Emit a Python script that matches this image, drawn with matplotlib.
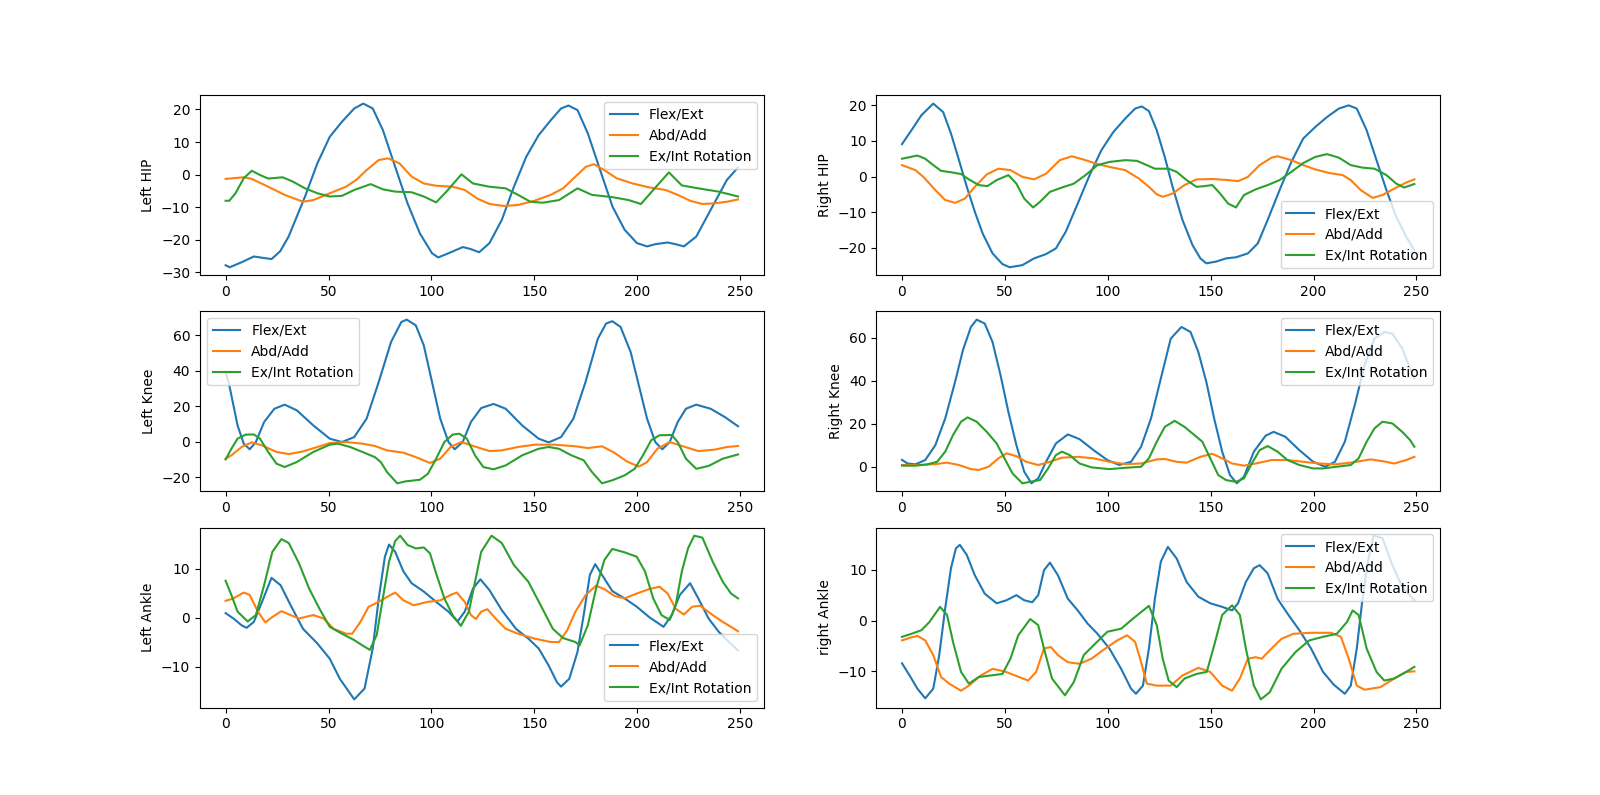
import numpy as np
import matplotlib.pyplot as plt

labels = ['Flex/Ext', 'Abd/Add', 'Ex/Int Rotation']
ylabels = ['Left HIP', 'Right HIP', 'Left Knee', 'Right Knee', 'Left Ankle', 'right Ankle']

#> Left HIP
lhip_flex_x = [0, 2, 8, 13.7, 18, 22.3, 26.5, 30.6, 38.6, 44.6, 50.6, 56.5, 62.5, 66.9, 71.5, 76.4, 82.4, 88.4, 94.4, 100.3, 103.3, 108.3, 115.3, 119, 123.2, 128.2, 134.2, 140.1, 146.1, 152.1, 158, 163, 166.6, 171, 176, 182, 188, 193.9, 199.9, 204.8, 209, 214.8, 218.5, 222.7, 228.7, 235.7, 243.6, 249]
lhip_flex_y = [-27.8, -28.4, -26.8, -25.1, -25.5, -25.9, -23.5, -19, -6.7, 3.5, 11.6, 16.2, 20.3, 21.8, 20.3, 13.7, 2.4, -8.8, -18, -24.1, -25.4, -24.1, -22.2, -22.8, -23.8, -21, -13.9, -3.7, 5.5, 12.1, 16.7, 20.3, 21.2, 19.8, 12.7, 1.4, -9.8, -16.9, -21, -22, -21.3, -20.8, -21.3, -22, -19, -10.8, -1.6, 2.2]
lhip_abd_x = [0, 8.8, 12.7, 20.7, 28.7, 37.6, 42.6, 50.6, 58.5, 63.5, 68.5, 74.4, 79, 84.4, 90.4, 96.3, 102.3, 110.3, 116.2, 122.2, 128.2, 135.2, 142.1, 150.1, 158, 164, 170, 175, 179, 184, 190, 197.8, 205.8, 213.8, 219.7, 225.7, 231.7, 237.6, 243.6, 249]
lhip_abd_y = [-1.3, -0.8, -1.3, -3.7, -6.2, -8.3, -7.8, -5.7, -3.7, -1.6, 1.4, 4.5, 5, 3.5, -0.6, -2.7, -3.4, -3.7, -4.7, -7.3, -9, -9.6, -9.3, -8, -6.2, -4.2, -0.6, 2.4, 3.2, 1.4, -1.1, -2.7, -3.9, -4.7, -6.2, -8, -9, -8.8, -8.3, -7.6]
lhip_rot_x = [0, 1.8, 4.8, 8.8, 12.7, 16.7, 20.7, 27.7, 32.6, 38.6, 44.6, 50.6, 56.5, 62.5, 70.5, 76.4, 82.4, 90.4, 96.3, 102.3, 107.3, 114.6, 120.2, 128.2, 136.1, 142.1, 148.1, 154.1, 162, 166, 171, 178, 188, 195.9, 201.8, 207.8, 215.4, 221.7, 229.7, 239.6, 249]
lhip_rot_y = [-8, -8, -5.7, -1.1, 1.2, -0.1, -1.2, -0.8, -2.1, -4.2, -5.7, -6.7, -6.5, -4.7, -2.9, -4.5, -5.2, -5.4, -6.7, -8.5, -5.2, 0.1, -2.7, -3.7, -4.2, -6.2, -8.3, -8.6, -7.8, -6.2, -4.2, -6.2, -6.9, -7.8, -9, -4.7, 0.7, -3.3, -4.2, -5.2, -6.7]

#> Right HIP
rhip_flex_x = [0, 4.6, 9.4, 15.2, 20, 23.8, 27.7, 31.5, 35.4, 39.2, 44, 48.8, 52.3, 58.5, 64.2, 70, 74.8, 79.6, 85.4, 91.2, 96.9, 102.7, 108.5, 113.3, 116.5, 120, 123.8, 127.7, 131.5, 136.3, 141.2, 145, 147.9, 152.7, 157.5, 162.3, 168.1, 172.9, 177.7, 183.5, 189.2, 195, 200.8, 206.5, 212.3, 217.1, 221, 225.8, 230.6, 235.4, 240.2, 245, 249]
rhip_flex_y = [9.1, 13, 17.2, 20.5, 18.1, 12.1, 4.6, -2.9, -9.9, -16, -21.6, -24.6, -25.5, -24.9, -23, -21.8, -20.2, -15.5, -7.6, 0.4, 7.4, 12.5, 16.3, 19.1, 19.7, 18.4, 13, 5.5, -2.9, -12.2, -19.3, -23, -24.4, -23.9, -23, -22.7, -21.6, -18.8, -12.2, -3.8, 4.1, 10.7, 13.9, 16.7, 19.1, 20, 19.1, 13, 4.6, -3.8, -11.3, -16.9, -20.7]
rhip_abd_x = [0, 6.5, 10.4, 16.2, 21, 25.8, 30.6, 35.4, 41.2, 46.9, 52.7, 58.5, 64.2, 70, 76.7, 82.5, 89.2, 95, 100.8, 108.5, 115.2, 120, 123.8, 126.7, 131.5, 137.3, 143.1, 150.8, 158.5, 163.3, 168.1, 173.8, 179.6, 182.5, 189.2, 195, 200.8, 207.5, 214.2, 218.1, 222.9, 228.7, 233.5, 239.2, 245, 249]
rhip_abd_y = [3.2, 1.8, -0.1, -3.8, -6.6, -7.4, -6.2, -2.9, 0.6, 2.2, 1.8, -0.1, -0.8, 0.8, 4.6, 5.7, 4.6, 3.5, 2.7, 1.8, -0.6, -2.9, -5, -5.7, -4.8, -2.4, -0.8, -0.7, -1, -1.3, -0.1, 3.2, 5.3, 5.7, 4.6, 3.2, 2, 1, 0.4, -1, -3.8, -6, -5.2, -3.4, -1.7, -0.8]
rhip_rot_x = [0, 7.5, 11.3, 15.2, 19, 23.8, 28.7, 32.5, 37.3, 41.5, 46, 51.7, 55.6, 59.4, 63.7, 67.1, 71.9, 77.7, 83.5, 89.2, 95, 100.8, 108.5, 114.2, 119, 122.9, 129.6, 133.5, 138.3, 143.1, 146.9, 150.8, 154.6, 158.5, 162.3, 166.2, 171.9, 177.7, 183.5, 189.2, 195, 200.8, 206.5, 212.3, 218.1, 223.8, 229.6, 235.4, 240.2, 244, 249]
rhip_rot_y = [5, 5.9, 5, 3.2, 1.6, 1.2, 0.7, -0.8, -2.4, -2.7, -1, 0.4, -2, -6.2, -8.7, -7.1, -4.3, -3.1, -2, 0.4, 3.2, 4.1, 4.6, 4.4, 3.2, 2.2, 2.2, 1.3, -1, -2.9, -2.7, -2.4, -4.8, -7.6, -8.7, -5.2, -3.6, -2.4, -1, 1.3, 3.8, 5.5, 6.3, 5.3, 3.2, 2.5, 2.2, 0.4, -2, -3.1, -2.1]

#> Left Knee
lknee_flex_x = [0, 1.8, 3.8, 5.8, 8.8, 11.7, 14.7, 18.7, 23.7, 28.7, 34.6, 42.6, 50.6, 56.5, 62.5, 68.5, 74.4, 80.4, 85.4, 88, 92.4, 96.3, 100.3, 104.3, 108.3, 111.3, 115.2, 119.2, 124.2, 130.2, 136.1, 144.1, 152.1, 157, 163, 169, 174.9, 180.9, 184.9, 187.9, 191.9, 196.8, 200.8, 204.8, 208.8, 212.2, 215.8, 219.7, 223.7, 228.7, 235.7, 242.6, 249]
lknee_flex_y = [39.4, 31.8, 20.5, 9.2, -1.1, -4.3, -0.2, 11.1, 18.6, 20.9, 17.7, 9.2, 1.7, -0.2, 2.6, 13, 33.7, 56.3, 67.6, 68.9, 65.7, 54.4, 33.7, 13, -0.2, -4.3, -0.2, 11.1, 19, 21.3, 18.6, 9.2, 1.7, -0.4, 2.6, 13, 33.7, 58.2, 66.7, 68, 64.8, 50.7, 31.8, 13, -0.2, -4.3, -0.2, 11.1, 18.6, 20.9, 18.6, 13.9, 8.7]
lknee_abd_x = [0, 2.8, 7.8, 12.7, 17.7, 24.7, 30.7, 37.6, 44.6, 50.6, 58.5, 66.5, 72.5, 78.4, 86.4, 92.4, 99.3, 104.3, 109.3, 114.6, 120.2, 128.2, 134.2, 142.1, 150.1, 160, 170, 176, 182.9, 188.9, 194.9, 200.8, 204.8, 209.8, 215.8, 221.7, 229.7, 237.6, 243.6, 249]
lknee_abd_y = [-9.6, -7.7, -3, -0.4, -2.1, -5.8, -7, -5.5, -3, -0.8, -0.2, -1.1, -2.4, -4.9, -6.2, -8.7, -12, -9.6, -3, -0.2, -2.4, -5.3, -4.9, -3, -1.7, -1.7, -2.6, -3.6, -2.6, -6.2, -11.1, -14.1, -11.5, -4, -0.2, -2.4, -5.3, -4.5, -3, -2.4]
lknee_rot_x = [0, 2.8, 5.8, 9.8, 13.7, 16.7, 20.7, 24.7, 28.7, 34.6, 42.6, 50.6, 54.5, 60.5, 66.5, 72.5, 75.4, 78.4, 83.4, 87.4, 94.4, 98.3, 102.3, 106.3, 110.3, 113.6, 117.2, 121.2, 125.2, 130.2, 136.1, 144.1, 152.1, 157, 162, 168, 174, 178, 182.9, 187.9, 193.9, 198.8, 202.8, 206.8, 210.8, 216.8, 219.7, 223.7, 228.7, 234.7, 241.6, 249]
lknee_rot_y = [-10, -4, 1.7, 4, 4.1, 1.7, -5.8, -12.4, -14.3, -11.5, -5.8, -1.7, -1.1, -3, -5.8, -8.7, -11.5, -17.1, -23.5, -22.4, -21.5, -18.1, -9.6, -0.2, 4, 4.5, 1.7, -7.7, -14.3, -15.6, -13.4, -7.7, -4, -3, -4, -7.7, -10.5, -17.1, -23.5, -21.8, -19, -15.3, -7.7, 0.8, 3.6, 3.8, -0.2, -9.6, -15.3, -13.7, -9.6, -7.2]

#> Right Knee
rknee_flex_x = [0, 2.7, 6.5, 11.3, 16.2, 21, 25.8, 29.6, 33.5, 36.3, 40.2, 44, 47.9, 51.7, 55.6, 59.4, 62.9, 66.2, 70, 74.8, 80.6, 86.3, 93.1, 99.8, 105.6, 111.3, 116.2, 121, 125.8, 130.6, 135.8, 140.2, 144, 147.9, 151.7, 155.6, 159.4, 162.7, 166.2, 171, 176.7, 180.6, 186.3, 193.1, 199.8, 205.6, 210.4, 215.2, 220, 224.8, 229.6, 234.4, 238.3, 243.1, 246.9, 249]
rknee_flex_y = [3.2, 1.5, 1.1, 3.1, 10, 22.4, 39.4, 54.1, 64.9, 68.3, 66.5, 57.9, 42.5, 25.5, 10, -2.3, -7.7, -5.4, 2.3, 10.8, 15, 12.8, 7.7, 3.1, 0.8, 2.3, 9.3, 22.4, 41, 59.5, 64.9, 62.6, 53.3, 39.4, 22.4, 7, -3.9, -7.7, -4.6, 7, 14.4, 16.2, 13.9, 7.7, 2.3, 0, 2.3, 11.6, 28.6, 47.1, 59.5, 62.6, 61.8, 54.9, 45.6, 41]
rknee_abd_x = [0, 8.5, 16.2, 21.9, 27.7, 33.5, 37.3, 42.1, 46.9, 50.8, 55.6, 60.4, 66.2, 71.9, 77.7, 85.4, 93.1, 100.8, 108.5, 116.2, 123.8, 127.7, 133.5, 138.3, 145, 150.8, 155.6, 160.4, 166.2, 171.9, 179.6, 187.3, 195, 202.7, 210.4, 218.1, 227.7, 233.5, 239.2, 245, 249]
rknee_abd_y = [0.8, 0.8, 1.2, 1.9, 0.8, -1.1, -1.5, 0, 3.9, 6.2, 4.9, 2.3, 0.8, 2.3, 4.2, 4.6, 3.9, 2.3, 1.2, 1.5, 3.4, 3.6, 2.3, 1.9, 4.6, 6, 3.9, 1.5, 0.5, 1.5, 3.1, 3.1, 2.3, 1.5, 1.1, 1.9, 3.4, 2.6, 1.5, 3.1, 4.6]
rknee_rot_x = [0, 6.5, 12.3, 17.1, 21, 24.8, 28.7, 31.9, 36.3, 41.2, 46, 49.8, 53.7, 58.5, 62.3, 67.1, 71, 74.8, 77.7, 81.5, 86.3, 92.1, 100.8, 108.5, 116.2, 120, 123.8, 127.7, 132.5, 137.3, 142.1, 146, 149.8, 153.7, 157.5, 162.3, 166.2, 170, 173.8, 177.7, 182.5, 187.3, 193.1, 199.8, 204.6, 211.3, 218.1, 221.9, 225.8, 229.6, 233.5, 238.3, 243.1, 246.9, 249]
rknee_rot_y = [0.5, 0.5, 1.1, 2.3, 7, 14.7, 20.9, 22.9, 20.9, 16.2, 10.8, 3.9, -3.1, -7.7, -7, -6.2, -0.8, 5.4, 7, 5.4, 1.5, -0.3, -1.1, -0.5, 0, 3.9, 11.6, 18.5, 21.3, 18.5, 14.7, 11.6, 3.9, -3.9, -6.2, -7, -5.4, 1.5, 7.7, 9.6, 7, 3.1, 0.8, -0.8, -0.8, 0, 0.8, 3.9, 11.6, 17.8, 20.9, 20.1, 16.2, 12.4, 9.3]

#> Left Ankle
lank_flex_x = [0, 3.8, 7.8, 10.2, 13.7, 17.7, 22.3, 26.7, 31.6, 37.6, 44.6, 50.6, 55.5, 62.5, 67.5, 71.5, 74.4, 77.4, 79.4, 82.4, 86.4, 90.4, 96.3, 102.3, 108.3, 112.7, 116.2, 120.2, 123.8, 128.2, 134.2, 141.1, 147.1, 152.1, 157, 161, 163, 167, 171, 174, 177, 179.6, 182.9, 187.9, 193.9, 199.8, 205.8, 212.8, 216.8, 220.7, 225.7, 229.7, 234.7, 239.6, 244.6, 249]
lank_flex_y = [0.9, -0.2, -1.6, -2.1, -0.9, 3.2, 8.1, 6.6, 2.5, -2.3, -5.3, -8.4, -12.5, -16.7, -14.5, -6.3, 3.9, 12.4, 14.9, 13.4, 9.4, 7, 5.3, 3.2, 1.2, -0.8, 1.2, 5.9, 7.8, 5.6, 1.5, -2.3, -4.3, -6.3, -9.8, -13.2, -14.1, -12.5, -7, 0.5, 8.7, 10.9, 8.7, 5.4, 3.9, 2.2, 0.1, -1.9, 0.5, 4.6, 7, 3.9, -0.2, -2.9, -5, -6.7]
lank_abd_x = [0, 3.8, 8.8, 11.7, 15.7, 19.3, 22.7, 27.1, 31.6, 35.6, 42.6, 47.6, 52.5, 58.5, 61.5, 65.5, 69.5, 74.4, 78.4, 82.4, 86.4, 91.4, 98.3, 104.3, 109.3, 112.3, 116.2, 119.2, 121.6, 124.2, 127.2, 131.2, 136.1, 142.1, 150.1, 158, 162, 166, 170, 175, 180, 184, 189, 193.9, 199.8, 205.8, 210.8, 214.8, 218.7, 222.7, 226.7, 230.7, 235.7, 241.6, 245.6, 249]
lank_abd_y = [3.4, 3.9, 5.1, 4.6, 1.2, -1, 0.1, 1.3, 0.5, -0.2, 0.5, -0.2, -2.3, -3.3, -3.3, -0.9, 2.2, 3.2, 4.2, 5.1, 3.5, 2.5, 3.2, 3.5, 4.6, 5.1, 3.2, 0.5, -0.3, 1.2, 1.7, -0.2, -2.3, -3.3, -4.3, -5, -5, -2.6, 1.2, 4.6, 6.5, 5.8, 4.4, 3.9, 4.9, 5.8, 6.3, 4.9, 1.8, 0.6, 2.2, 2.4, 0.8, -0.9, -1.9, -2.8]
lank_rot_x = [0, 2.8, 5.8, 10.7, 14.7, 18.7, 22.7, 27.1, 30.7, 35.6, 40.6, 45.6, 50.6, 56.5, 62.5, 66.5, 70.1, 73.4, 76.4, 79.4, 82.4, 84.8, 88.4, 92.4, 96.3, 99.3, 102.3, 106.3, 110.3, 114.3, 118.2, 121.2, 124.2, 129.2, 134.2, 140.1, 147.1, 153.1, 159, 164, 170, 172, 176, 180, 184, 187.9, 193.9, 199.8, 203.8, 207.8, 211.8, 215.8, 218.7, 221.7, 224.7, 227.7, 231.7, 236.7, 241.6, 245.6, 249]
lank_rot_y = [7.5, 4.6, 1.2, -0.8, 0.5, 6.6, 13.4, 16, 15.2, 11.1, 5.9, 1.8, -1.9, -3.3, -4.6, -5.7, -6.6, -3.6, 3.9, 11.4, 15.6, 16.7, 14.8, 14.1, 14.3, 13.1, 9, 3.9, 0.5, -1.7, 1.2, 7.3, 13.4, 16.7, 15.2, 10.7, 7.3, 2.5, -2.3, -4.2, -5, -5.7, -1.6, 5.9, 11.7, 14, 13.3, 12.4, 9.4, 3.9, 0.5, -0.5, 2.5, 9.4, 14.1, 16.7, 16.3, 11.4, 7.3, 4.9, 3.9]

#> right Ankle
rank_flex_x = [0, 3.7, 7.5, 11.3, 15.2, 18.1, 21, 23.8, 26.2, 28.1, 31.5, 35.4, 40.2, 46, 50.8, 55.6, 59.4, 63.3, 66.2, 69, 71.9, 75.8, 80.6, 85.4, 90.2, 95, 100.8, 106.5, 111.3, 113.7, 117.1, 120, 122.9, 125.8, 129.2, 133.5, 138.3, 144, 149.8, 155.6, 160.4, 163.3, 167.1, 171, 173.8, 177.7, 182.5, 187.3, 193.1, 198.8, 204.6, 209.8, 215.2, 218.1, 221, 223.8, 226.7, 229.2, 233.5, 238.3, 243.1, 249]
rank_flex_y = [-8.4, -10.8, -13.4, -15.3, -13.4, -6.8, 2.4, 10.3, 14.2, 14.9, 12.9, 8.9, 5.3, 3.4, 4, 5, 4, 3.6, 5, 9.9, 11.4, 8.9, 4.3, 2, -0.6, -2.6, -5.5, -9.5, -13.4, -14.4, -12.8, -5.5, 4.3, 11.6, 14.5, 12.2, 7.6, 4.7, 3.4, 2.7, 2, 3.4, 7.6, 10.3, 10.9, 9.3, 4.3, 1.4, -1.9, -5.5, -10.1, -12.6, -14.4, -12.8, -5.5, 4.3, 12.2, 16.7, 16.2, 10.9, 6.6, 4]
rank_abd_x = [0, 3.7, 7.5, 11.3, 15.2, 19, 22.9, 28.7, 32.5, 38.3, 44, 49.8, 55.6, 61.3, 65.2, 69, 72.3, 75.8, 80.6, 86.3, 92.1, 98.8, 104.6, 109.4, 113.3, 116.2, 119, 123.8, 130.6, 136.3, 144, 149.8, 155.6, 160.4, 164.2, 168.1, 171.9, 174.8, 179.6, 184.4, 190.2, 198.8, 208.5, 213.3, 217.1, 221, 224.8, 232.5, 239.2, 245, 249]
rank_abd_y = [-3.9, -3.4, -3, -3.9, -6.8, -11.1, -12.4, -13.8, -12.8, -10.8, -9.5, -10, -10.9, -11.8, -10.1, -5.5, -5.2, -6.8, -8.2, -8.5, -7.5, -5.5, -3.9, -2.9, -4.2, -8.2, -12.4, -12.8, -12.8, -10.8, -9.3, -10.1, -12.8, -13.8, -11.4, -7.5, -7.2, -7.5, -5.5, -3.6, -2.6, -2.4, -2.4, -3.2, -7.5, -12.8, -13.6, -13.1, -11.4, -10.1, -10]
rank_rot_x = [0, 4.6, 9.4, 13.3, 18.5, 21.9, 24.8, 28.7, 32.5, 37.3, 43.1, 48.8, 52.7, 56.5, 62.3, 66.2, 69, 72.9, 79.2, 83.5, 88.3, 94, 99.8, 106.5, 112.3, 120, 123.8, 126.7, 129.6, 133.5, 137.3, 143.1, 148.1, 151.7, 155.6, 160.4, 164.2, 167.1, 171, 174.4, 178.7, 184.4, 191.2, 197.9, 204.6, 211.3, 216.2, 219, 221.9, 225.8, 230.6, 234.4, 239.2, 245, 249]
rank_rot_y = [-3.2, -2.6, -1.9, -0.3, 2.7, 1.1, -4.2, -10.1, -12.4, -11.1, -10.8, -10.5, -7.5, -2.9, 0.3, -0.9, -5.5, -11.4, -14.7, -12.1, -6.8, -4.5, -2.2, -1.6, 0.4, 2.9, -0.9, -7.5, -11.8, -13.1, -11.4, -10.5, -10.1, -4.9, 1.1, 3, 1.1, -5.5, -12.8, -15.5, -14.1, -9.5, -6.2, -3.9, -3.2, -2.6, -0.3, 2, 1.1, -5.5, -10.1, -11.8, -11.4, -10.1, -9.1]

series = [
    [(lhip_flex_x, lhip_flex_y), (lhip_abd_x, lhip_abd_y), (lhip_rot_x, lhip_rot_y)],
    [(rhip_flex_x, rhip_flex_y), (rhip_abd_x, rhip_abd_y), (rhip_rot_x, rhip_rot_y)],
    [(lknee_flex_x, lknee_flex_y), (lknee_abd_x, lknee_abd_y), (lknee_rot_x, lknee_rot_y)],
    [(rknee_flex_x, rknee_flex_y), (rknee_abd_x, rknee_abd_y), (rknee_rot_x, rknee_rot_y)],
    [(lank_flex_x, lank_flex_y), (lank_abd_x, lank_abd_y), (lank_rot_x, lank_rot_y)],
    [(rank_flex_x, rank_flex_y), (rank_abd_x, rank_abd_y), (rank_rot_x, rank_rot_y)],
]
legendLocs = ['upper right', 'lower right', 'upper left', 'upper right', 'lower right', 'upper right']

fig, axes = plt.subplots(3, 2, figsize=(16, 7.95), dpi=100)

for i, ax in enumerate(axes.flat):
    for (x, y), label in zip(series[i], labels):
        ax.plot(x, y, label=label)
    ax.set_ylabel(ylabels[i])
    ax.legend(loc=legendLocs[i])

plt.savefig('out.png')
